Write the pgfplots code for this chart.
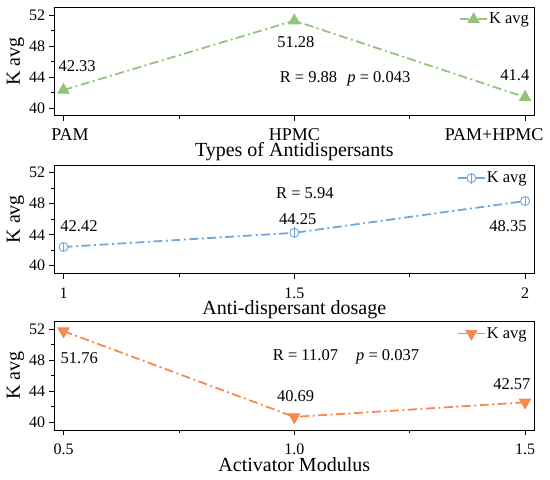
\documentclass[border=0pt]{standalone}
\usepackage{pgfplots}
\pgfplotsset{compat=1.18}
\usepackage{fontspec}
\setmainfont{Liberation Serif}

\definecolor{cgreen}{HTML}{93C47D}
\definecolor{cblue}{HTML}{6FA8DC}
\definecolor{corange}{HTML}{F58A4C}

\pgfdeclareplotmark{obar}{%
  \pgfpathcircle{\pgfpointorigin}{\pgfplotmarksize}%
  \pgfusepathqfillstroke
  \pgfpathmoveto{\pgfqpoint{0pt}{-1.2\pgfplotmarksize}}%
  \pgfpathlineto{\pgfqpoint{0pt}{1.2\pgfplotmarksize}}%
  \pgfusepathqstroke}

\tikzset{
  ticksz/.style={font={\fontsize{16}{19}\selectfont\rmfamily}},
  datasz/.style={font={\fontsize{16.5}{19}\selectfont\rmfamily}},
}

\pgfplotsset{
  panel/.style={
    scale only axis, width=480pt, height=108.5pt,
    ymin=39, ymax=53, ytick={40,44,48,52}, minor y tick num=1,
    minor x tick num=1,
    tick align=outside, xtick pos=bottom, ytick pos=left,
    major tick length=5pt, minor tick length=3pt,
    every tick/.style={black, line width=0.8pt},
    axis line style={line width=0.9pt, black},
    /pgf/number format/assume math mode=true,
    tick label style={ticksz},
    yticklabel style={anchor=east, inner sep=0pt, xshift=-4pt},
    xticklabel style={anchor=base, inner sep=0pt, yshift=-19.5pt},
    label style={font={\fontsize{20}{24}\selectfont\rmfamily}},
    ylabel={K avg},
    ylabel style={at={(axis description cs:-0.081,0.5)}, anchor=center},
    xlabel style={at={(axis description cs:0.5,0)}, anchor=base, inner sep=0pt, yshift=-41pt},
    clip=false,
    legend style={draw=none, fill=none, datasz, anchor=east,
      inner sep=0pt, nodes={inner sep=1pt}},
    legend image code/.code={%
      \draw[mark repeat=2, mark phase=2, ##1] plot coordinates {(0pt,0pt) (13.5pt,0pt) (27pt,0pt)};},
    every axis plot/.append style={line width=1.8pt, dash pattern=on 9pt off 3.5pt on 2pt off 3.5pt},
  }
}

\begin{document}
\begin{tikzpicture}
\useasboundingbox (0,0) rectangle (550pt,-480pt);

% ---------- Top panel ----------
\begin{axis}[panel, at={(54.3pt,-7.3pt)}, anchor=north west,
  xmin=-0.04, xmax=2.04, xtick={0,1,2},
  xticklabels={\hspace*{13pt}PAM, HPMC, PAM+HPMC\hspace*{62pt}},
  xticklabel style={font={\fontsize{18}{21}\selectfont\rmfamily}},
  xlabel={Types of Antidispersants},
  legend style={at={(axis cs:2.022,51.45)}}]
\addplot[cgreen, mark=triangle*, mark size=6.5pt, mark options={solid, fill=cgreen, line width=0.8pt}]
  coordinates {(0,42.33) (1,51.28) (2,41.4)};
\addlegendentry{K avg}
\node[datasz, anchor=center] at (axis cs:0.059,45.36) {42.33};
\node[datasz, anchor=center] at (axis cs:1.0066,48.55) {51.28};
\node[datasz, anchor=base] at (axis cs:1.22,43.35) {R = 9.88\hspace{6pt} \textit{p} = 0.043};
\node[datasz, anchor=center] at (axis cs:1.956,44.19) {41.4};
\end{axis}

% ---------- Middle panel ----------
\begin{axis}[panel, at={(54.3pt,-165pt)}, anchor=north west,
  xmin=0.98, xmax=2.02, xtick={1,1.5,2},
  xticklabels={1,1.5,2},
  xlabel={Anti-dispersant dosage},
  legend style={at={(axis cs:2.006,51.3)}}]
\addplot[cblue, mark=obar, mark size=4.5pt, mark options={solid, fill=white, line width=0.9pt}]
  coordinates {(1,42.42) (1.5,44.25) (2,48.35)};
\addlegendentry{K avg}
\node[datasz, anchor=center] at (axis cs:1.0335,45.1) {42.42};
\node[datasz, anchor=center] at (axis cs:1.523,49.43) {R = 5.94};
\node[datasz, anchor=center] at (axis cs:1.5076,46.0) {44.25};
\node[datasz, anchor=center] at (axis cs:1.963,45.14) {48.35};
\end{axis}

% ---------- Bottom panel ----------
\begin{axis}[panel, at={(54.3pt,-321.5pt)}, anchor=north west,
  xmin=0.48, xmax=1.52, xtick={0.5,1,1.5},
  xticklabels={0.5,1.0,1.5},
  xlabel={Activator Modulus},
  legend style={at={(axis cs:1.506,51.45)}}]
\addplot[corange, mark=triangle*, mark size=6.5pt, mark options={solid, fill=corange, rotate=180, line width=0.8pt}]
  coordinates {(0.5,51.76) (1.0,40.69) (1.5,42.57)};
\addlegendentry{K avg}
\node[datasz, anchor=center] at (axis cs:0.534,48.23) {51.76};
\node[datasz, anchor=base] at (axis cs:1.112,47.95) {R = 11.07\hspace{14pt} \textit{p} = 0.037};
\node[datasz, anchor=center] at (axis cs:1.003,43.33) {40.69};
\node[datasz, anchor=center] at (axis cs:1.4715,44.98) {42.57};
\end{axis}
\end{tikzpicture}
\end{document}
